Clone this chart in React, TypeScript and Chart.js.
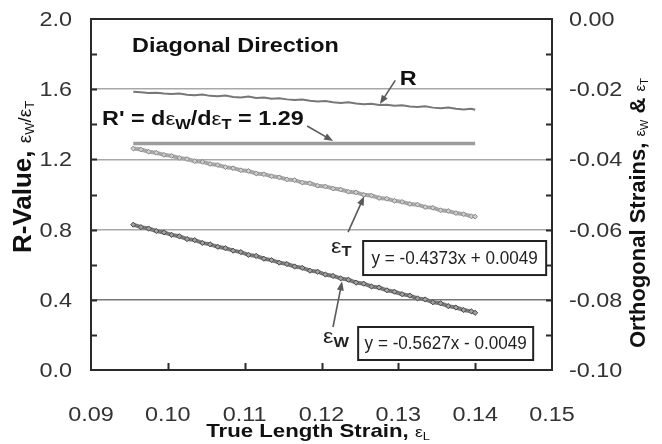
import React, { useEffect, useRef } from 'react';
import { Chart, registerables } from 'chart.js';

Chart.register(...registerables);

// ---------- data ----------
const STRAIN_L = [
  0.0955, 0.0965, 0.0975, 0.0985, 0.0995, 0.1005, 0.1015, 0.1025, 0.1035, 0.1045,
  0.1055, 0.1065, 0.1075, 0.1085, 0.1095, 0.1105, 0.1115, 0.1125, 0.1135, 0.1145,
  0.1155, 0.1165, 0.1175, 0.1185, 0.1195, 0.1205, 0.1215, 0.1225, 0.1235, 0.1245,
  0.1255, 0.1265, 0.1275, 0.1285, 0.1295, 0.1305, 0.1315, 0.1325, 0.1335, 0.1345,
  0.1355, 0.1365, 0.1375, 0.1385, 0.1395, 0.1400,
];

const R_VALUE = [
  1.585, 1.582, 1.578, 1.580, 1.575, 1.573, 1.576, 1.568, 1.566, 1.570,
  1.562, 1.560, 1.564, 1.556, 1.553, 1.558, 1.550, 1.552, 1.545, 1.548,
  1.542, 1.538, 1.541, 1.534, 1.530, 1.533, 1.526, 1.522, 1.525, 1.518,
  1.514, 1.517, 1.510, 1.512, 1.506, 1.508, 1.502, 1.499, 1.503, 1.495,
  1.492, 1.496, 1.488, 1.485, 1.489, 1.483,
];

const R_PRIME_X = [0.0955, 0.1400];
const R_PRIME_Y = [1.29, 1.29];

const EPS_T = [
  -0.0369, -0.0372, -0.0378, -0.0381, -0.0387, -0.0390, -0.0396, -0.0399, -0.0405, -0.0407,
  -0.0413, -0.0416, -0.0422, -0.0425, -0.0431, -0.0433, -0.0440, -0.0442, -0.0448, -0.0451,
  -0.0457, -0.0459, -0.0466, -0.0468, -0.0475, -0.0477, -0.0483, -0.0486, -0.0492, -0.0494,
  -0.0501, -0.0503, -0.0510, -0.0512, -0.0518, -0.0521, -0.0527, -0.0529, -0.0536, -0.0538,
  -0.0545, -0.0547, -0.0553, -0.0556, -0.0562, -0.0563,
];

const EPS_W = [
  -0.0586, -0.0593, -0.0597, -0.0604, -0.0608, -0.0615, -0.0619, -0.0627, -0.0630, -0.0638,
  -0.0642, -0.0649, -0.0653, -0.0660, -0.0664, -0.0672, -0.0675, -0.0683, -0.0687, -0.0694,
  -0.0698, -0.0705, -0.0709, -0.0717, -0.0720, -0.0728, -0.0732, -0.0739, -0.0743, -0.0751,
  -0.0754, -0.0762, -0.0765, -0.0773, -0.0777, -0.0784, -0.0788, -0.0796, -0.0799, -0.0807,
  -0.0810, -0.0818, -0.0822, -0.0829, -0.0833, -0.0837,
];

const X_TICK_LABELS = ['0.09', '0.10', '0.11', '0.12', '0.13', '0.14', '0.15'];
const LEFT_TICK_LABELS = ['0.0', '0.4', '0.8', '1.2', '1.6', '2.0'];
const RIGHT_TICK_LABELS = ['-0.10', '-0.08', '-0.06', '-0.04', '-0.02', '0.00'];

const FIT_T_TEXT = 'y = -0.4373x + 0.0049';
const FIT_W_TEXT = 'y = -0.5627x - 0.0049';

// ---------- drawing helpers ----------
const FONT = '"Liberation Sans", Arial, Helvetica, sans-serif';
const SX = 1.17;

type Part = { t: string; size: number; bold?: boolean; dy?: number };

function fontOf(p: Part) {
  return `${p.bold ? 'bold ' : ''}${p.size}px ${FONT}`;
}

function rich(
  ctx: CanvasRenderingContext2D,
  parts: Part[],
  x: number,
  y: number,
  align: 'left' | 'center' | 'right',
  color: string,
  rotate = false,
  sx = SX,
) {
  ctx.save();
  ctx.fillStyle = color;
  ctx.textBaseline = 'alphabetic';
  ctx.textAlign = 'left';
  let w = 0;
  for (const p of parts) {
    ctx.font = fontOf(p);
    w += ctx.measureText(p.t).width;
  }
  ctx.translate(x, y);
  ctx.scale(sx, 1);
  if (rotate) ctx.rotate(-Math.PI / 2);
  let cx = align === 'left' ? 0 : align === 'right' ? -w : -w / 2;
  for (const p of parts) {
    ctx.font = fontOf(p);
    ctx.fillText(p.t, cx, p.dy || 0);
    cx += ctx.measureText(p.t).width;
  }
  ctx.restore();
}

function arrow(ctx: CanvasRenderingContext2D, x1: number, y1: number, x2: number, y2: number) {
  const a = Math.atan2(y2 - y1, x2 - x1);
  const L = 9;
  const W = 3.5;
  ctx.save();
  ctx.strokeStyle = '#5a5a5a';
  ctx.fillStyle = '#5a5a5a';
  ctx.lineWidth = 1.6;
  ctx.beginPath();
  ctx.moveTo(x1, y1);
  ctx.lineTo(x2 - Math.cos(a) * L * 0.8, y2 - Math.sin(a) * L * 0.8);
  ctx.stroke();
  ctx.beginPath();
  ctx.moveTo(x2, y2);
  ctx.lineTo(x2 - Math.cos(a) * L - Math.sin(a) * W, y2 - Math.sin(a) * L + Math.cos(a) * W);
  ctx.lineTo(x2 - Math.cos(a) * L + Math.sin(a) * W, y2 - Math.sin(a) * L - Math.cos(a) * W);
  ctx.closePath();
  ctx.fill();
  ctx.restore();
}

const decorPlugin = {
  id: 'decor',
  beforeDraw(chart: any) {
    const ctx = chart.ctx as CanvasRenderingContext2D;
    ctx.save();
    ctx.fillStyle = '#ffffff';
    ctx.fillRect(0, 0, chart.width, chart.height);
    ctx.restore();
  },
  afterDraw(chart: any) {
    const ctx = chart.ctx as CanvasRenderingContext2D;
    const xs = chart.scales.x;
    const ys = chart.scales.y;
    const ys2 = chart.scales.y2;
    const { left, right, top, bottom } = chart.chartArea;
    const X = (v: number) => xs.getPixelForValue(v);
    const Y = (v: number) => ys.getPixelForValue(v);

    // frame
    ctx.save();
    ctx.strokeStyle = '#2a2a2a';
    ctx.lineWidth = 2;
    ctx.strokeRect(left, top, right - left, bottom - top);

    // inner tick marks
    ctx.beginPath();
    for (let i = 1; i < 10; i++) {
      const y = Math.round(Y(i * 0.2)) + 0.5;
      ctx.moveTo(left, y);
      ctx.lineTo(left + 6, y);
      ctx.moveTo(right, y);
      ctx.lineTo(right - 6, y);
    }
    for (let i = 1; i < X_TICK_LABELS.length - 1; i++) {
      const x = Math.round(X(parseFloat(X_TICK_LABELS[i]))) + 0.5;
      ctx.moveTo(x, bottom);
      ctx.lineTo(x, bottom - 7);
    }
    ctx.stroke();
    ctx.restore();

    // tick labels
    const tickCol = '#333333';
    for (const s of X_TICK_LABELS) {
      rich(ctx, [{ t: s, size: 20 }], X(parseFloat(s)), 421, 'center', tickCol);
    }
    for (const s of LEFT_TICK_LABELS) {
      rich(ctx, [{ t: s, size: 20 }], 72, Y(parseFloat(s)) + 7, 'right', tickCol);
    }
    for (const s of RIGHT_TICK_LABELS) {
      rich(ctx, [{ t: s, size: 20 }], 569, ys2.getPixelForValue(parseFloat(s)) + 7, 'left', tickCol);
    }

    // axis titles
    const ink = '#111111';
    rich(
      ctx,
      [
        { t: 'True Length Strain, ', size: 19, bold: true },
        { t: 'ε', size: 15 },
        { t: 'L', size: 11, dy: 3 },
      ],
      318,
      437,
      'center',
      ink,
    );
    rich(
      ctx,
      [
        { t: 'R-Value, ', size: 26, bold: true },
        { t: 'ε', size: 19 },
        { t: 'W', size: 13, dy: 3 },
        { t: '/ε', size: 19 },
        { t: 'T', size: 13, dy: 3 },
      ],
      31,
      177,
      'center',
      ink,
      true,
      1,
    );
    rich(
      ctx,
      [
        { t: 'Orthogonal Strains, ', size: 22, bold: true },
        { t: 'ε', size: 15 },
        { t: 'W', size: 11, dy: 3 },
        { t: ' & ', size: 22, bold: true },
        { t: 'ε', size: 15 },
        { t: 'T', size: 11, dy: 3 },
      ],
      645,
      213,
      'center',
      ink,
      true,
      1,
    );

    // annotations
    rich(ctx, [{ t: 'Diagonal Direction', size: 20, bold: true }], X(0.09534), Y(1.812), 'left', ink);
    rich(ctx, [{ t: 'R', size: 20, bold: true }], X(0.1302), Y(1.624), 'left', ink);
    arrow(ctx, X(0.1296), Y(1.65), X(0.1276), Y(1.515));

    rich(
      ctx,
      [
        { t: "R' = d", size: 20, bold: true },
        { t: 'ε', size: 19 },
        { t: 'W', size: 14, bold: true, dy: 4 },
        { t: '/d', size: 20, bold: true },
        { t: 'ε', size: 19 },
        { t: 'T', size: 14, bold: true, dy: 4 },
        { t: ' = 1.29', size: 20, bold: true },
      ],
      X(0.09143),
      Y(1.396),
      'left',
      ink,
    );
    arrow(ctx, X(0.11813), Y(1.39), X(0.12151), Y(1.305));

    rich(
      ctx,
      [
        { t: 'ε', size: 20 },
        { t: 'T', size: 14, bold: true, dy: 3 },
      ],
      X(0.12125),
      Y(0.667),
      'left',
      '#222',
    );
    arrow(ctx, X(0.12346), Y(0.786), X(0.12555), Y(0.99));

    rich(
      ctx,
      [
        { t: 'ε', size: 20 },
        { t: 'W', size: 14, bold: true, dy: 4 },
      ],
      X(0.1202),
      Y(0.154),
      'left',
      '#222',
    );
    arrow(ctx, X(0.1215), Y(0.245), X(0.12268), Y(0.505));

    // regression boxes
    const box = (x1: number, y1: number, x2: number, y2: number, label: string) => {
      const l = X(x1);
      const r = X(x2);
      const t = Y(y1);
      const b = Y(y2);
      ctx.save();
      ctx.fillStyle = '#ffffff';
      ctx.fillRect(l, t, r - l, b - t);
      ctx.strokeStyle = '#222';
      ctx.lineWidth = 2;
      ctx.strokeRect(l, t, r - l, b - t);
      ctx.restore();
      rich(ctx, [{ t: label, size: 18 }], (l + r) / 2, (t + b) / 2 + 6, 'center', '#222', false, 0.95);
    };
    box(0.12542, 0.735, 0.14924, 0.541, FIT_T_TEXT);
    box(0.12477, 0.245, 0.14755, 0.057, FIT_W_TEXT);
  },
};

export default function App() {
  const ref = useRef<HTMLCanvasElement>(null);

  useEffect(() => {
    const canvas = ref.current;
    if (!canvas) return;
    const pts = (ys: number[]) => STRAIN_L.map((x, i) => ({ x, y: ys[i] }));
    const chart = new Chart(canvas, {
      type: 'line',
      data: {
        datasets: [
          {
            label: 'R',
            data: pts(R_VALUE),
            yAxisID: 'y',
            borderColor: '#777777',
            borderWidth: 2,
            pointRadius: 0,
          },
          {
            label: "R'",
            data: R_PRIME_X.map((x, i) => ({ x, y: R_PRIME_Y[i] })),
            yAxisID: 'y',
            borderColor: '#9c9c9c',
            borderWidth: 3.5,
            pointRadius: 0,
          },
          {
            label: 'eps_T',
            data: pts(EPS_T),
            yAxisID: 'y2',
            borderColor: '#a8a8a8',
            borderWidth: 4,
            pointRadius: 2.4,
            pointStyle: 'rectRot',
            pointBorderColor: '#8a8a8a',
            pointBackgroundColor: '#cfcfcf',
            pointBorderWidth: 1,
          },
          {
            label: 'eps_W',
            data: pts(EPS_W),
            yAxisID: 'y2',
            borderColor: '#7a7a7a',
            borderWidth: 4,
            pointRadius: 2.6,
            pointStyle: 'rectRot',
            pointBorderColor: '#4a4a4a',
            pointBackgroundColor: '#a0a0a0',
            pointBorderWidth: 1,
          },
        ],
      },
      options: {
        animation: false,
        responsive: false,
        maintainAspectRatio: false,
        layout: { padding: { top: 19, left: 0, right: 0, bottom: 0 } },
        plugins: {
          legend: { display: false },
          tooltip: { enabled: false },
        },
        scales: {
          x: {
            type: 'linear',
            min: 0.09,
            max: 0.15,
            ticks: { display: false, stepSize: 0.01 },
            grid: { display: false },
            border: { display: false },
            afterFit: (s: any) => {
              s.height = 74;
            },
          },
          y: {
            position: 'left',
            min: 0,
            max: 2,
            ticks: { display: false, stepSize: 0.4 },
            grid: {
              drawTicks: false,
              lineWidth: 1.5,
              color: (c: any) => {
                const v = c.tick.value;
                if (v < 0.01 || v > 1.99) return 'rgba(0,0,0,0)';
                return Math.abs(v - 0.4) < 0.01 ? '#777777' : '#a8a8a8';
              },
            },
            border: { display: false },
            afterFit: (s: any) => {
              s.width = 91;
            },
          },
          y2: {
            position: 'right',
            min: -0.1,
            max: 0,
            ticks: { display: false, stepSize: 0.02 },
            grid: { display: false },
            border: { display: false },
            afterFit: (s: any) => {
              s.width = 110;
            },
          },
        },
      },
      plugins: [decorPlugin],
    } as any);
    return () => chart.destroy();
  }, []);

  return (
    <div style={{ position: 'absolute', left: 0, top: 0, width: 662, height: 444, background: '#fff' }}>
      <canvas ref={ref} width={662} height={444} style={{ display: 'block' }} />
    </div>
  );
}
